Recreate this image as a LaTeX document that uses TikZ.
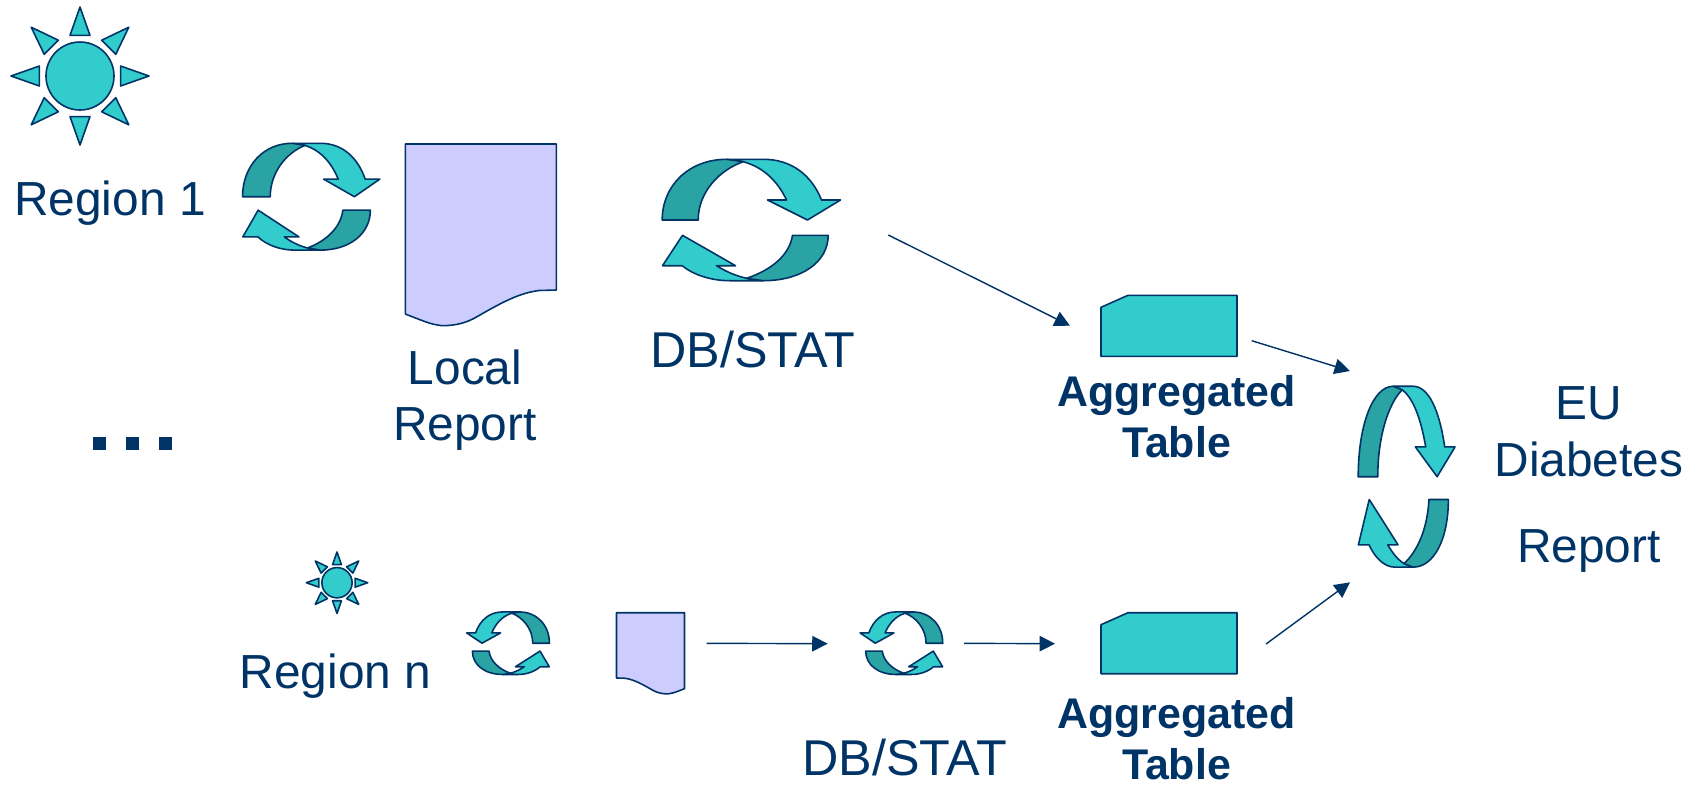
\documentclass[tikz,border=0pt]{standalone}
\usepackage{fontspec}
\setmainfont{Liberation Sans}
\usetikzlibrary{arrows.meta}
\definecolor{navyline}{HTML}{003366}
\definecolor{tealfill}{HTML}{33CCCC}
\definecolor{tealdark}{HTML}{29A3A3}
\definecolor{docfill}{HTML}{CCCCFF}
\tikzset{
    shapeline/.style={draw=navyline,line width=0.45pt,line join=round},
    flow/.style={draw=navyline,line width=0.4pt,-{Triangle[length=4.4pt,width=4.4pt]}},
    bigtext/.style={font=\fontsize{13.6}{15.9}\selectfont,text=navyline,align=center},
    dbtext/.style={font=\fontsize{14.3}{16}\selectfont,text=navyline,align=center},
    boldtext/.style={font=\fontsize{12.2}{14.5}\selectfont\bfseries,text=navyline,align=center},
    dotbox/.style={fill=navyline,inner sep=0pt,minimum size=3.7pt},
    sunshape/.pic={
        \draw[shapeline,fill=tealfill] (0,0) circle (34);
        \foreach \a in {0,45,...,315}
            \draw[shapeline,fill=tealfill,rotate=\a] (40.6,-10) -- (69,0) -- (40.6,10) -- cycle;
    },
    cyclearrow/.pic={
        \draw[shapeline,fill=tealfill] (-8.3,-58.3) .. controls (15,-52) and (28,-35) .. (35,-20) -- (16,-20) -- (56,0) -- (89,-20) -- (70,-20) .. controls (60,-45) and (40,-60.7) .. (11.7,-60.7) -- (-25,-60.7) -- cycle;
        \draw[shapeline,fill=tealdark] (-89.3,0) .. controls (-89.3,-35) and (-62,-60.7) .. (-25,-60.7) -- (-8.3,-58.3) .. controls (-32,-50) and (-53.3,-28) .. (-53.3,0) -- cycle;
        \draw[shapeline,fill=tealfill] (-69,15.3) -- (-16,45.7) -- (-35,45.7) .. controls (-25,52) and (-15,56) .. (-5,58.3) -- (11.7,60.7) -- (-21.7,60.7) .. controls (-40,60.7) and (-58,55) .. (-69.3,45.7) -- (-89,45.7) -- cycle;
        \draw[shapeline,fill=tealdark] (76.7,15.3) -- (41,15.3) .. controls (38,35) and (20,50) .. (-5,58.3) -- (11.7,60.7) .. controls (50,60.7) and (76.7,42) .. (76.7,15.3) -- cycle;
    },
    docshape/.pic={
        \draw[shapeline,fill=docfill] (-75.5,0) -- (75.5,0) -- (75.5,146) -- (58,146.5) .. controls (40,149) and (25,156) .. (-3.8,172.7) .. controls (-14,178.7) and (-25,181.7) .. (-38.8,181.7) .. controls (-50,180) .. (-75.5,170) -- cycle;
    },
    tableshape/.pic={
        \draw[shapeline,fill=tealfill] (0,12) -- (27,0) -- (136,0) -- (136,61) -- (0,61) -- cycle;
    }
}
\begin{document}
\begin{tikzpicture}[x=0.01cm,y=-0.01cm]
            \useasboundingbox (0,0) rectangle (1697,784);

            \pic (sunone) at (80,76) {sunshape};
            \pic[scale=0.445] (sunn) at (337,582.7) {sunshape};

            \pic[xscale=0.77,yscale=0.88] (cycleone) at (311.3,196.7) {cyclearrow};
            \pic (cycletwo) at (751.5,220) {cyclearrow};
            \pic[xscale=0.543,yscale=1.49] (cycleeu) at (1406.7,476.7) {cyclearrow};
            \pic[xscale=-0.464,yscale=0.515] (cyclen) at (508,643.2) {cyclearrow};
            \pic[xscale=-0.464,yscale=0.515] (cyclem) at (901.3,643.2) {cyclearrow};

            \pic (docone) at (480.8,144) {docshape};
            \pic[xscale=-0.45,yscale=0.447] (docn) at (650.5,612.7) {docshape};

            \pic (tabone) at (1101,295.3) {tableshape};
            \pic (tabn) at (1101,612.7) {tableshape};

            \node[bigtext] (regionone) at (110,203.5) {Region 1};
            \node[bigtext] (localrep) at (465,400) {Local\\Report};
            \node[dbtext] (dbone) at (753,350) {DB/STAT};
            \node[boldtext] (aggone) at (1176.5,417) {Aggregated\\Table};
            \node[bigtext] (eutext) at (1589,403) {EU};
            \node[bigtext] (diabtext) at (1589,459) {Diabetes};
            \node[bigtext] (reptext) at (1589,551) {Report};
            \node[bigtext] (regionn) at (335.5,676) {Region n};
            \node[dbtext] (dbn) at (905,758) {DB/STAT};
            \node[boldtext] (aggn) at (1176.5,739) {Aggregated\\Table};

            \foreach \n/\x in {1/99.5,2/132.5,3/165.5}
                \node[dotbox] (dot\n) at (\x,443.5) {};

            \coordinate (dbout) at (888.3,235);
            \coordinate (tabin) at (1070,325.7);
            \coordinate (tabout) at (1251.7,340.7);
            \coordinate (euin) at (1350,371);
            \coordinate (docout) at (706.7,643.3);
            \coordinate (cyclein) at (827.7,643.7);
            \coordinate (cycleout) at (964,643.3);
            \coordinate (tabnin) at (1055,643.7);
            \coordinate (tabnout) at (1266,644);
            \coordinate (eunin) at (1350,582.3);

            \draw[flow] (dbout) -- (tabin);
            \draw[flow] (tabout) -- (euin);
            \draw[flow] (docout) -- (cyclein);
            \draw[flow] (cycleout) -- (tabnin);
            \draw[flow] (tabnout) -- (eunin);
            \end{tikzpicture}
\end{document}
